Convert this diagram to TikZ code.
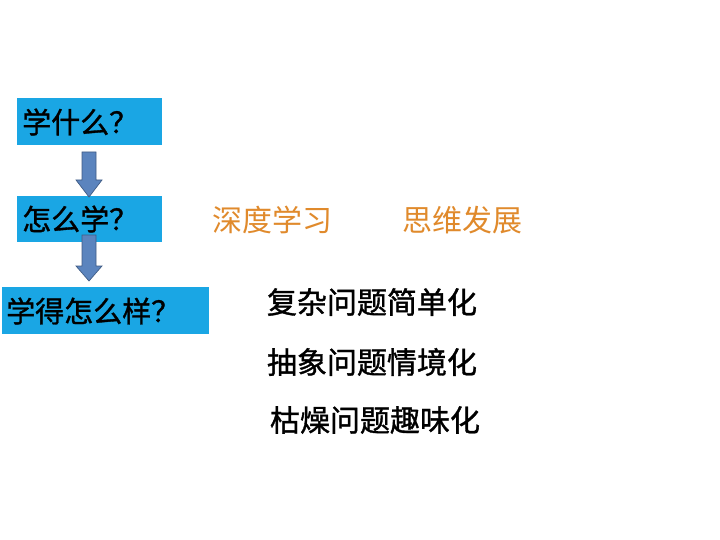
\documentclass[tikz,border=0pt]{standalone}
\usepackage{fontspec}
\setmainfont[AutoFakeBold=1.2]{Noto Sans CJK SC}
\definecolor{boxblue}{HTML}{1AA6E4}
\definecolor{arrblue}{HTML}{5B84BE}
\definecolor{orng}{HTML}{E08A2C}
\tikzset{box/.style={fill=boxblue,draw=none,inner sep=0pt,anchor=north west},
 lbl/.style={font=\fontsize{29}{32}\selectfont\bfseries,anchor=west,inner sep=0pt},
 darrow/.style={draw=arrblue!70!black,fill=arrblue,line width=0.7pt},
 otext/.style={font=\fontsize{30}{33}\selectfont,text=orng,inner sep=0pt},
 btext/.style={font=\fontsize{30}{33}\selectfont\bfseries,inner sep=0pt}}
\begin{document}
\begin{tikzpicture}[x=1pt,y=-1pt]
\useasboundingbox (0,0) rectangle (720,540);
\node[box,minimum width=145pt,minimum height=47pt] (b1) at (17,98) {};
\node[box,minimum width=145pt,minimum height=46pt] (b2) at (17,196) {};
\node[box,minimum width=207pt,minimum height=47pt] (b3) at (2,287) {};
\coordinate (a1) at (89,152);
\coordinate (a2) at (89,235);
\draw[darrow] ([xshift=-7pt]a1) -- ++(0,28) -- ++(-6,0) -- ++(13,17) -- ++(13,-17) -- ++(-6,0) -- ++(0,-28) -- cycle;
\draw[darrow] ([xshift=-7pt]a2) -- ++(0,31) -- ++(-6,0) -- ++(13,15) -- ++(13,-15) -- ++(-6,0) -- ++(0,-31) -- cycle;
\node[lbl] (t1) at (22,122) {学什么？};
\node[lbl] (t2) at (22,219) {怎么学？};
\node[lbl] (t3) at (6,311) {学得怎么样？};
\node[otext] (o1) at (272,220) {深度学习};
\node[otext] (o2) at (462,220) {思维发展};
\node[btext] (k1) at (372,302) {复杂问题简单化};
\node[btext] (k2) at (372,362) {抽象问题情境化};
\node[btext] (k3) at (375,420) {枯燥问题趣味化};
\end{tikzpicture}
\end{document}
